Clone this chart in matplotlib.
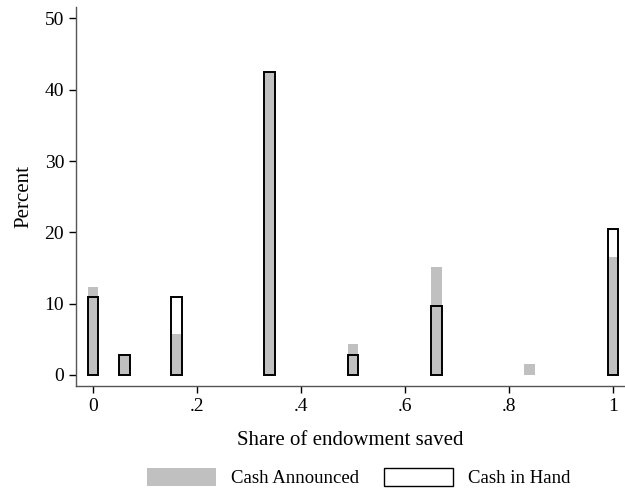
import numpy as np
import matplotlib.pyplot as plt
from matplotlib.patches import Patch

plt.rcParams['font.family'] = ['Liberation Serif', 'DejaVu Serif']

share = [0.0, 0.06, 0.16, 0.34, 0.5, 0.66, 0.84, 1.0]
announced = [12.4, 2.8, 5.7, 42.5, 4.3, 15.2, 1.5, 16.5]
in_hand = [11.0, 2.8, 11.0, 42.5, 2.8, 9.6, 0.0, 20.5]

x = np.array(share)
a = np.array(announced)
h = np.array(in_hand)

fig = plt.figure(figsize=(6.25, 4.95), dpi=100)
ax = fig.add_axes([0.1216, 0.2202, 0.8784, 0.7657])

w = 0.021
ax.bar(x[a > 0], a[a > 0], width=w, color='#c0c0c0', linewidth=0, zorder=2)
ax.bar(x[h > 0], h[h > 0], width=w, fill=False, edgecolor='black', linewidth=1.4, zorder=3)

ax.set_xlim(-0.0327, 1.023)
ax.set_ylim(-1.55, 51.6)
ax.set_xticks([0, 0.2, 0.4, 0.6, 0.8, 1.0])
ax.set_xticklabels(['0', '.2', '.4', '.6', '.8', '1'])
ax.set_yticks([0, 10, 20, 30, 40, 50])
ax.spines['top'].set_visible(False)
ax.spines['right'].set_visible(False)
for s in ['left', 'bottom']:
    ax.spines[s].set_color('#555555')
    ax.spines[s].set_linewidth(1.0)
ax.tick_params(direction='out', length=5, width=1, color='black', labelsize=14)
ax.set_xlabel('Share of endowment saved', fontsize=15, labelpad=12)
ax.set_ylabel('Percent', fontsize=15, labelpad=8)

handles = [Patch(facecolor='#c0c0c0', edgecolor='none', label='Cash Announced'),
           Patch(facecolor='white', edgecolor='black', linewidth=1, label='Cash in Hand')]
fig.legend(handles=handles, loc='lower center', bbox_to_anchor=(0.574, -0.018), ncol=2,
           frameon=False, fontsize=13.5, handlelength=3.7, handleheight=1.1,
           columnspacing=1.3, handletextpad=0.8)

fig.savefig('out.png', dpi=100)
